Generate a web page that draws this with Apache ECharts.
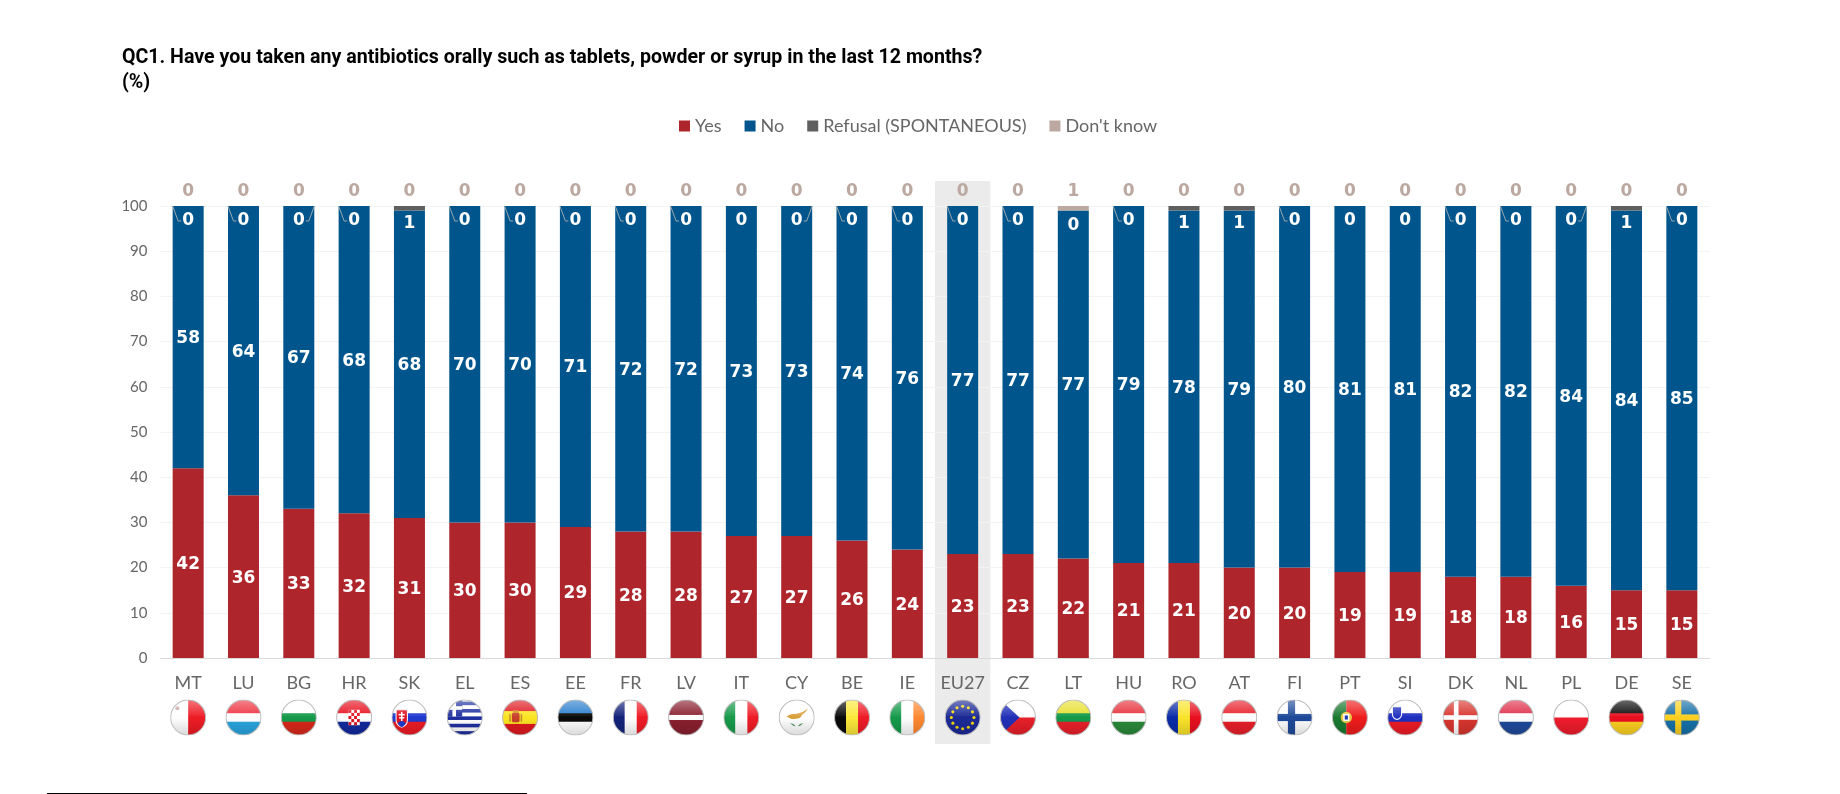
<![CDATA[<!doctype html>
<html lang="en">
<head>
    <meta charset="UTF-8">
    <title>QC1 antibiotics</title>
    <style>
        html, body { margin: 0; padding: 0; background: #fff; }
    </style>
</head>
<body>
    <script src="https://cdn.jsdelivr.net/npm/echarts@6/dist/echarts.min.js"></script>
    <div id="chart" style="width: 1840px; height: 794px"></div>

    <script>
        var countries = ['MT','LU','BG','HR','SK','EL','ES','EE','FR','LV','IT','CY','BE','IE','EU27','CZ','LT','HU','RO','AT','FI','PT','SI','DK','NL','PL','DE','SE'];
        var yesValues = [42,36,33,32,31,30,30,29,28,28,27,27,26,24,23,23,22,21,21,20,20,19,19,18,18,16,15,15];
        var noValues = [58,64,67,68,68,70,70,71,72,72,73,73,74,76,77,77,77,79,78,79,80,81,81,82,82,84,84,85];
        var refusalValues = [0,0,0,0,1,0,0,0,0,0,0,0,0,0,0,0,0,0,1,1,0,0,0,0,0,0,1,0];
        var dontKnowValues = [0,0,0,0,0,0,0,0,0,0,0,0,0,0,0,0,1,0,0,0,0,0,0,0,0,0,0,0];
        var yTicks = [0,10,20,30,40,50,60,70,80,90,100];
        var seriesNames = ['Yes','No','Refusal (SPONTANEOUS)',"Don't know"];
        var leaderLeft = ['MT','LU','HR','EL','ES','EE','FR','LV','BE','IE','EU27','CZ','HU','FI','DK','NL','SE'];
        var leaderRight = ['BG','CY','PL'];

        var RED = '#ae262c', BLUE = '#00568c', GREY = '#5f5f5f', TAN = '#bba9a1';
        var TEXT_FONT = 'Lato';
        var LABEL_FONT = 'DejaVu Sans';

        // flags: little svgs on a 70x70 circle
        function hs(cols, w) {
            w = w || cols.map(function () { return 1; });
            var tot = w.reduce(function (a, b) { return a + b; }, 0), y = 0, s = '';
            cols.forEach(function (c, i) {
                var h = 50 * w[i] / tot;
                s += '<rect x="0" y="' + (y + 10) + '" width="70" height="' + (h + 0.3) + '" fill="' + c + '"/>';
                y += h;
            });
            // round ball: stretch first and last stripe to the edge
            s = '<rect width="70" height="35" fill="' + cols[0] + '"/><rect y="35" width="70" height="35" fill="' + cols[cols.length - 1] + '"/>' + s;
            return s;
        }
        function vs(cols, w) {
            w = w || cols.map(function () { return 1; });
            var tot = w.reduce(function (a, b) { return a + b; }, 0), x = 0, s = '';
            cols.forEach(function (c, i) {
                var d = 70 * w[i] / tot;
                s += '<rect x="' + x + '" width="' + (d + 0.3) + '" height="70" fill="' + c + '"/>';
                x += d;
            });
            return s;
        }
        function nordic(bg, fg, t) {
            return '<rect width="70" height="70" fill="' + bg + '"/><rect x="22" width="' + t + '" height="70" fill="' + fg + '"/><rect y="' + (35 - t / 2) + '" width="70" height="' + t + '" fill="' + fg + '"/>';
        }
        function euStars() {
            var s = '<rect width="70" height="70" fill="#1c2a96"/>';
            for (var i = 0; i < 12; i++) {
                var a = i * Math.PI / 6;
                s += '<circle cx="' + (35 + 22 * Math.cos(a)) + '" cy="' + (35 + 22 * Math.sin(a)) + '" r="3" fill="#f5d90a"/>';
            }
            return s;
        }
        function greek() {
            var s = '<rect width="70" height="70" fill="#fff"/>';
            for (var i = 0; i < 5; i++) s += '<rect y="' + (4 + i * 14.4) + '" width="70" height="7" fill="#1f2fa0"/>';
            return s + '<rect width="30" height="33" fill="#1f2fa0"/><rect x="11" width="7" height="33" fill="#fff"/><rect y="13" width="30" height="7" fill="#fff"/>';
        }
        function checker() {
            var s = '<rect x="24" y="20" width="22" height="30" fill="#fff"/>';
            for (var r = 0; r < 5; r++) for (var c = 0; c < 4; c++) {
                if ((r + c) % 2 === 0) s += '<rect x="' + (24 + c * 5.5) + '" y="' + (20 + r * 6) + '" width="5.5" height="6" fill="#e01020"/>';
            }
            return s;
        }
        var flagArt = {
            MT: vs(['#fff', '#ee1c25']) + '<circle cx="14" cy="17" r="4" fill="#c9a9a9"/>',
            LU: hs(['#ee3340', '#fff', '#2aa5e0']),
            BG: hs(['#fff', '#149a4a', '#d8281a']),
            HR: hs(['#e8101f', '#fff', '#122a9e']) + checker(),
            SK: hs(['#fff', '#1f3bd0', '#ee1c25']) + '<path d="M9 20h22v20q0 10-11 14q-11-4-11-14z" fill="#e01020" stroke="#fff" stroke-width="2"/><rect x="18.5" y="24" width="3" height="18" fill="#fff"/><rect x="14" y="28" width="12" height="3" fill="#fff"/><rect x="15" y="34" width="10" height="3" fill="#fff"/><path d="M12 46q8-8 16 0q-4 6-8 8q-4-2-8-8z" fill="#1f3bd0"/>',
            EL: greek(),
            ES: hs(['#e01a20', '#fbe522', '#e01a20'], [1, 2, 1]) + '<rect x="19" y="26" width="15" height="18" rx="3" fill="#c8402a"/><rect x="14" y="28" width="3" height="15" fill="#c98a30"/><rect x="36" y="28" width="3" height="15" fill="#c98a30"/><rect x="21" y="21" width="11" height="5" fill="#d89020"/>',
            EE: hs(['#2a7fce', '#0a0a0a', '#fff']),
            FR: vs(['#14237a', '#fff', '#ef1c26']),
            LV: hs(['#8a2030', '#fff', '#8a2030'], [2, 1, 2]),
            IT: vs(['#189a4a', '#fff', '#ef1c26']),
            CY: '<rect width="70" height="70" fill="#fff"/><path d="M15 33q9-7 18-5q12-1 24-11q-4 9-12 13q-2 6-9 7q-10 2-13 0z" fill="#d9a13c"/><path d="M22 46q6 6 11 6q-4-6-11-6zM48 46q-6 6-11 6q4-6 11-6z" fill="#5e9e70"/>',
            BE: vs(['#0a0a0a', '#fbe83a', '#ef1c26']),
            IE: vs(['#149a4a', '#fff', '#ff8830']),
            EU27: euStars(),
            CZ: '<rect width="70" height="35" fill="#fff"/><rect y="35" width="70" height="35" fill="#e8202a"/><path d="M0 0L38 35L0 70z" fill="#2230b8"/>',
            LT: hs(['#e8e030', '#149a4a', '#e8202a']),
            HU: hs(['#e8303a', '#fff', '#2a8a3a']),
            RO: vs(['#0a2ca8', '#fbe42a', '#e8101f']),
            AT: hs(['#e8202a', '#fff', '#e8202a']),
            FI: nordic('#fff', '#1f4a9a', 14),
            PT: vs(['#1a7a30', '#ef1c1c'], [2, 3]) + '<circle cx="28" cy="35" r="11" fill="#e8c840"/><rect x="22" y="28" width="12" height="14" fill="#fff"/><rect x="25" y="31" width="6" height="8" fill="#1f3ba8"/>',
            SI: hs(['#fff', '#1f30c0', '#ee1c25']) + '<path d="M10 14h18v14q0 8-9 11q-9-3-9-11z" fill="#1f30c0" stroke="#fff" stroke-width="2"/>',
            DK: nordic('#d8362f', '#fff', 9),
            NL: hs(['#e0304a', '#fff', '#1f4a9a']),
            PL: '<rect width="70" height="35" fill="#fff"/><rect y="35" width="70" height="35" fill="#ef1c2c"/>',
            DE: hs(['#0a0a0a', '#e8101f', '#fbd020']),
            SE: nordic('#1770a8', '#fbd020', 12)
        };
        function flagUri(code) {
            var svg = '<svg xmlns="http://www.w3.org/2000/svg" width="140" height="140" viewBox="0 0 70 70">' +
                '<defs><clipPath id="c"><circle cx="35" cy="35" r="34"/></clipPath>' +
                '<linearGradient id="g" x1="0" y1="0" x2="0" y2="1">' +
                '<stop offset="0" stop-color="#fff" stop-opacity="0.4"/><stop offset="0.45" stop-color="#fff" stop-opacity="0.05"/>' +
                '<stop offset="0.5" stop-color="#000" stop-opacity="0"/><stop offset="1" stop-color="#000" stop-opacity="0.15"/></linearGradient></defs>' +
                '<g clip-path="url(#c)">' + flagArt[code] + '<rect width="70" height="70" fill="url(#g)"/></g>' +
                '<circle cx="35" cy="35" r="34" fill="none" stroke="#bdbdbd" stroke-width="2"/></svg>';
            return 'data:image/svg+xml;charset=utf-8,' + encodeURIComponent(svg);
        }

        function barSeries(name, values, color, label) {
            return {
                name: name,
                type: 'bar',
                stack: 'total',
                barWidth: 31,
                data: values,
                itemStyle: { color: color },
                label: Object.assign({
                    show: true,
                    fontFamily: LABEL_FONT,
                    fontWeight: 'bold',
                    fontSize: 17,
                    color: '#fff'
                }, label)
            };
        }

        var option = {
            animation: false,
            backgroundColor: '#fff',
            title: {
                text: 'QC1. Have you taken any antibiotics orally such as tablets, powder or syrup in the last 12 months?\n(%)',
                left: 122,
                top: 45.5,
                padding: 0,
                textStyle: { fontFamily: 'Roboto', fontWeight: 'bold', fontSize: 19.6, color: '#000', lineHeight: 25 }
            },
            legend: {
                data: seriesNames,
                left: 679,
                top: 117,
                padding: 0,
                itemWidth: 11,
                itemHeight: 11,
                itemGap: 23,
                icon: 'rect',
                selectedMode: false,
                textStyle: { fontFamily: TEXT_FONT, fontSize: 18, color: '#666' }
            },
            grid: { left: 160.5, right: 130.5, top: 206, bottom: 136 },
            xAxis: {
                type: 'category',
                data: countries,
                z: 3,
                axisTick: { show: false },
                axisLine: { lineStyle: { color: '#d9d9d9', width: 1 } },
                axisLabel: { interval: 0, margin: 16, fontFamily: TEXT_FONT, fontSize: 18, color: '#666' }
            },
            yAxis: {
                type: 'value',
                min: yTicks[0],
                max: yTicks[yTicks.length - 1],
                interval: 10,
                axisLine: { show: false },
                axisTick: { show: false },
                splitLine: { lineStyle: { color: '#f3f3f3', width: 1 } },
                axisLabel: { margin: 13, fontFamily: TEXT_FONT, fontSize: 15, color: '#666' }
            },
            graphic: [{
                // footnote rule
                type: 'line',
                shape: { x1: 47, y1: 793.5, x2: 527, y2: 793.5 },
                style: { stroke: '#000', lineWidth: 1 }
            }],
            series: [
                {
                    // EU27 highlight band
                    type: 'custom',
                    z: -1,
                    clip: false,
                    silent: true,
                    data: [[countries.indexOf('EU27')]],
                    encode: { x: 0 },
                    renderItem: function (params, api) {
                        var p = api.coord([api.value(0), 100]);
                        var w = api.size([1, 0])[0];
                        return { type: 'rect', shape: { x: p[0] - w / 2, y: p[1] - 25, width: w, height: 563 }, style: { fill: '#ebebeb' } };
                    }
                },
                barSeries(seriesNames[0], yesValues, RED, { position: 'inside', offset: [0, 1.5] }),
                barSeries(seriesNames[1], noValues, BLUE, { position: 'inside', offset: [0, 1.5] }),
                barSeries(seriesNames[2], refusalValues, GREY, { position: 'inside', offset: [0, 15] }),
                barSeries(seriesNames[3], dontKnowValues, TAN, { position: 'top', distance: 6, color: TAN }),
                {
                    // leader lines from the bar top to the 0 labels
                    type: 'custom',
                    z: 4,
                    clip: false,
                    silent: true,
                    data: leaderLeft.map(function (c) { return [countries.indexOf(c), -1]; })
                        .concat(leaderRight.map(function (c) { return [countries.indexOf(c), 1]; })),
                    encode: { x: 0 },
                    renderItem: function (params, api) {
                        var p = api.coord([api.value(0), 100]);
                        var side = api.value(1);
                        return {
                            type: 'polyline',
                            shape: { points: [[p[0] + side * 15.5, p[1]], [p[0] + side * 10, p[1] + 15], [p[0] + side * 7, p[1] + 15]] },
                            style: { stroke: '#9aa7ae', lineWidth: 1, fill: null }
                        };
                    }
                },
                {
                    // flag balls under the country codes
                    type: 'custom',
                    z: 4,
                    clip: false,
                    silent: true,
                    data: countries.map(function (c, i) { return [i]; }),
                    encode: { x: 0 },
                    renderItem: function (params, api) {
                        var i = api.value(0);
                        var p = api.coord([i, 0]);
                        return { type: 'image', style: { image: flagUri(countries[i]), x: p[0] - 18, y: p[1] + 41.5, width: 36, height: 36 } };
                    }
                }
            ]
        };

        var chart = echarts.init(document.getElementById('chart'));
        chart.setOption(option);
    </script>
</body>
</html>
]]>
